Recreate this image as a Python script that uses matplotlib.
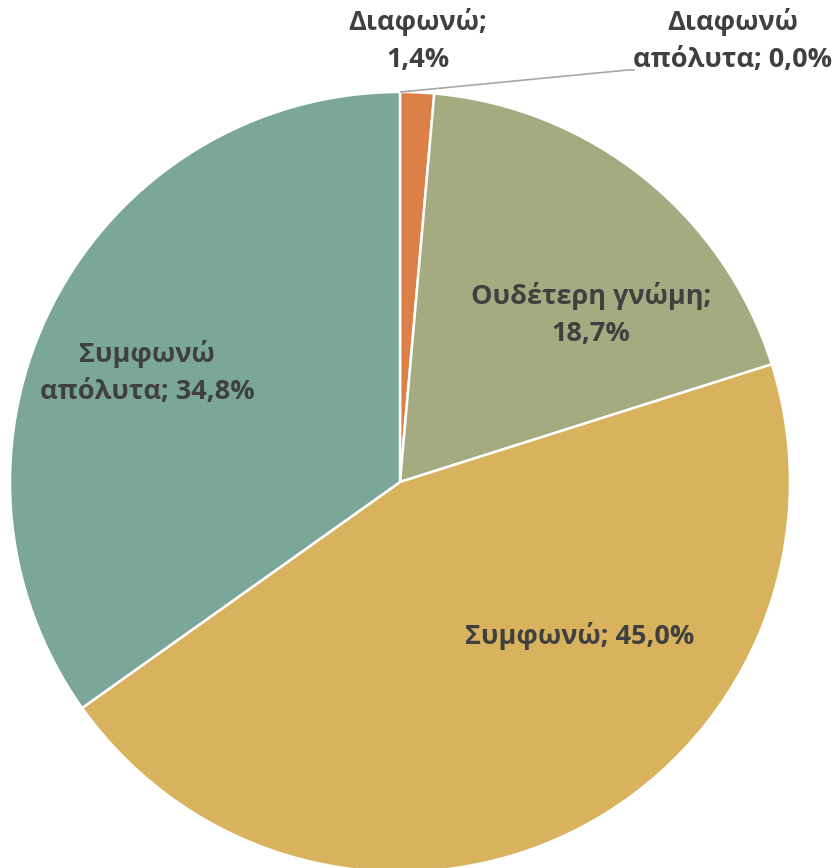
import matplotlib.pyplot as plt

# data
labels = ["Διαφωνώ\nαπόλυτα", "Διαφωνώ", "Ουδέτερη γνώμη", "Συμφωνώ", "Συμφωνώ\nαπόλυτα"]
values = [0.0, 1.4, 18.7, 45.0, 34.8]
colors = ["#4F81BD", "#DD8047", "#A5AB81", "#D8B25C", "#7BA69A"]

# label text and layout (pixel coords of the reference image)
label_texts = [
    "Διαφωνώ\nαπόλυτα; 0,0%",
    "Διαφωνώ;\n1,4%",
    "Ουδέτερη γνώμη;\n18,7%",
    "Συμφωνώ; 45,0%",
    "Συμφωνώ\nαπόλυτα; 34,8%",
]
label_pos = [(733, 41), (418, 41), (591, 315), (580, 636), (147, 372)]

W, H = 838, 868
fig = plt.figure(figsize=(W / 100, H / 100), dpi=100)
ax = fig.add_axes([0, 0, 1, 1])

cx, cy, r = 400, H - 482, 390
ax.pie(values, colors=colors, startangle=90, counterclock=False,
       center=(cx, cy), radius=r, frame=True,
       wedgeprops=dict(edgecolor="white", linewidth=1.8))
ax.set_xlim(0, W)
ax.set_ylim(0, H)
ax.axis("off")

for txt, (px, py) in zip(label_texts, label_pos):
    ax.text(px, H - py, txt, ha="center", va="center", fontsize=19.5,
            fontweight="bold", color="#404040", family=["Open Sans", "DejaVu Sans"],
            linespacing=1.55)

# leader line for the 0,0% slice
ax.plot([401, 628, 634], [H - 92, H - 70, H - 70], color="#A6A6A6", lw=1.2)

fig.savefig("out.png", dpi=100)
